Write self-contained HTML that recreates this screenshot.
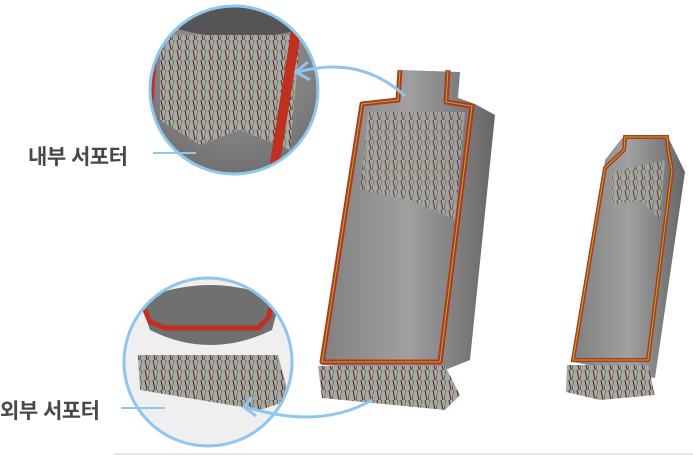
<!DOCTYPE html>
<html><head><meta charset="utf-8"><style>
html,body{margin:0;padding:0;background:#fff;width:693px;height:455px;overflow:hidden}
.lbl{position:absolute;font-family:"Liberation Sans","Noto Sans CJK KR",sans-serif;font-weight:bold;font-size:21px;color:#484848;letter-spacing:-0.5px}
</style></head><body>
<svg width="693" height="455" style="position:absolute;left:0;top:0">
<defs>
<linearGradient id="body" x1="0" x2="1" y1="0" y2="0">
<stop offset="0" stop-color="#808080"/><stop offset="0.5" stop-color="#a0a0a0"/><stop offset="1" stop-color="#666"/></linearGradient>
<radialGradient id="c1" cx="0.5" cy="0.3" r="0.7"><stop offset="0" stop-color="#a0a0a0"/><stop offset="1" stop-color="#707070"/></radialGradient>
<clipPath id="cc1"><circle cx="234" cy="90" r="84"/></clipPath>
<clipPath id="cc2"><circle cx="208" cy="362" r="84"/></clipPath>
<pattern id="sup" width="8" height="10" patternUnits="userSpaceOnUse">
<rect width="8" height="10" fill="#a8a8a8"/><line x1="1" y1="0" x2="3" y2="10" stroke="#5a2020" stroke-width="1"/><line x1="6" y1="0" x2="4" y2="10" stroke="#555" stroke-width="0.8"/><line x1="5" y1="0" x2="5" y2="6" stroke="#7c3" stroke-width="0.6"/></pattern>
</defs>
<line x1="114" y1="454" x2="693" y2="454" stroke="#ccc" stroke-width="1"/>
<!-- big bottle -->
<polygon points="360,102 400,100 402,70 460,72 458,98 475,104 495,115 470,360 440,372 322,365" fill="url(#body)"/>
<polygon points="368,112 465,112 455,220 410,200 360,190" fill="url(#sup)" opacity="0.8"/>
<polyline points="400,70 398,100 362,104 322,362 440,362 472,106 446,102 448,70" fill="none" stroke="#c0301e" stroke-width="5" stroke-linejoin="round"/>
<polyline points="400,70 398,100 362,104 322,362 440,362 472,106 446,102 448,70" fill="none" stroke="#7c3" stroke-width="1"/>
<polygon points="318,366 445,366 460,395 445,410 322,398" fill="url(#sup)"/>
<!-- small bottle -->
<polygon points="605,160 622,138 668,137 685,172 655,378 573,362" fill="url(#body)"/>
<polygon points="612,172 665,160 660,220 640,200 612,205" fill="url(#sup)" opacity="0.8"/>
<path d="M605,168 L624,150 L625,137 L667,137 L668,150 L672,170 L648,360 L573,360 Z" fill="none" stroke="#c0301e" stroke-width="4"/>
<path d="M605,168 L624,150 L625,137 L667,137 L668,150 L672,170 L648,360 L573,360 Z" fill="none" stroke="#7c3" stroke-width="1"/>
<polygon points="567,365 648,365 655,395 600,400 566,392" fill="url(#sup)"/>
<!-- circle 1 -->
<g clip-path="url(#cc1)">
<rect x="148" y="5" width="172" height="172" fill="url(#c1)"/>
<ellipse cx="240" cy="15" rx="80" ry="22" fill="#555"/>
<polygon points="160,35 300,35 290,150 240,130 200,145 160,120" fill="url(#sup)"/>
<polygon points="292,25 302,25 278,175 268,175" fill="#c0301e"/>
<polygon points="150,40 158,40 152,120 146,120" fill="#c0301e"/>
</g>
<circle cx="234" cy="90" r="84" fill="none" stroke="#8fc6ee" stroke-width="3"/>
<!-- circle 2 -->
<g clip-path="url(#cc2)">
<rect x="122" y="276" width="172" height="172" fill="#efefef"/>
<path d="M140,300 Q210,270 280,300 L272,330 Q210,360 150,330 Z" fill="#707070"/>
<path d="M145,310 L150,322 L165,328 L258,328 L268,318 L272,305" fill="none" stroke="#c0301e" stroke-width="5"/>
<polygon points="138,355 278,355 290,400 260,410 140,390" fill="url(#sup)"/>
</g>
<circle cx="208" cy="362" r="84" fill="none" stroke="#8fc6ee" stroke-width="3"/>
<!-- arrows -->
<path d="M405,96 Q360,55 298,72" fill="none" stroke="#8fc6ee" stroke-width="3"/>
<path d="M308,62 L296,72 L310,80" fill="none" stroke="#8fc6ee" stroke-width="3"/>
<path d="M372,400 Q320,430 246,407" fill="none" stroke="#8fc6ee" stroke-width="3"/>
<path d="M252,397 L244,407 L256,416" fill="none" stroke="#8fc6ee" stroke-width="3"/>
<line x1="153" y1="153" x2="196" y2="153" stroke="#8fc6ee" stroke-width="2"/>
<line x1="121" y1="408" x2="165" y2="408" stroke="#8fc6ee" stroke-width="2"/>
</svg>
<div class="lbl" style="left:28px;top:141px">내부 서포터</div>
<div class="lbl" style="left:0px;top:395px">외부 서포터</div>
</body></html>
